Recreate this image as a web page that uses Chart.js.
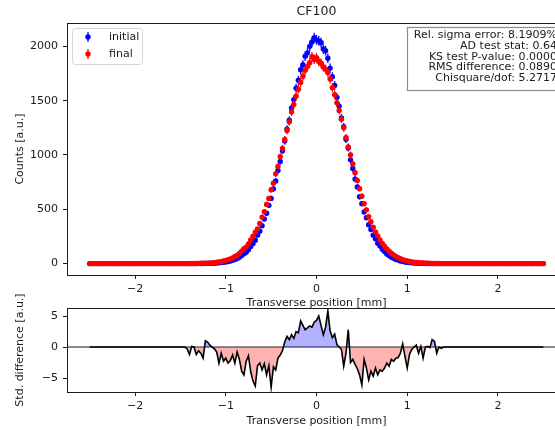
<!DOCTYPE html>
<html>
<head>
<meta charset="utf-8">
<script src="https://cdn.jsdelivr.net/npm/chart.js@4.4.0/dist/chart.umd.min.js"></script>
<style>
  html, body { margin: 0; padding: 0; background: #fff; overflow: hidden; }
  #wrap { position: relative; width: 555px; height: 430px; overflow: hidden; background: #fff; }
  canvas { position: absolute; left: 0; }
  #mainChart { top: 0; }
  #diffChart { top: 280px; }
</style>
</head>
<body>
<div id="wrap">
  <canvas id="mainChart" width="580" height="310"></canvas>
  <canvas id="diffChart" width="580" height="150"></canvas>
</div>
<script>
// bin centres [mm]
const positions = [
  -2.5,-2.475,-2.45,-2.425,-2.4,-2.375,-2.35,-2.325,-2.3,-2.275,
  -2.25,-2.225,-2.2,-2.175,-2.15,-2.125,-2.1,-2.075,-2.05,-2.025,
  -2,-1.975,-1.95,-1.925,-1.9,-1.875,-1.85,-1.825,-1.8,-1.775,
  -1.75,-1.725,-1.7,-1.675,-1.65,-1.625,-1.6,-1.575,-1.55,-1.525,
  -1.5,-1.475,-1.45,-1.425,-1.4,-1.375,-1.35,-1.325,-1.3,-1.275,
  -1.25,-1.225,-1.2,-1.175,-1.15,-1.125,-1.1,-1.075,-1.05,-1.025,
  -1,-0.975,-0.95,-0.925,-0.9,-0.875,-0.85,-0.825,-0.8,-0.775,
  -0.75,-0.725,-0.7,-0.675,-0.65,-0.625,-0.6,-0.575,-0.55,-0.525,
  -0.5,-0.475,-0.45,-0.425,-0.4,-0.375,-0.35,-0.325,-0.3,-0.275,
  -0.25,-0.225,-0.2,-0.175,-0.15,-0.125,-0.1,-0.075,-0.05,-0.025,
  0,0.025,0.05,0.075,0.1,0.125,0.15,0.175,0.2,0.225,
  0.25,0.275,0.3,0.325,0.35,0.375,0.4,0.425,0.45,0.475,
  0.5,0.525,0.55,0.575,0.6,0.625,0.65,0.675,0.7,0.725,
  0.75,0.775,0.8,0.825,0.85,0.875,0.9,0.925,0.95,0.975,
  1,1.025,1.05,1.075,1.1,1.125,1.15,1.175,1.2,1.225,
  1.25,1.275,1.3,1.325,1.35,1.375,1.4,1.425,1.45,1.475,
  1.5,1.525,1.55,1.575,1.6,1.625,1.65,1.675,1.7,1.725,
  1.75,1.775,1.8,1.825,1.85,1.875,1.9,1.925,1.95,1.975,
  2,2.025,2.05,2.075,2.1,2.125,2.15,2.175,2.2,2.225,
  2.25,2.275,2.3,2.325,2.35,2.375,2.4,2.425,2.45,2.475,
  2.5
];

const initialCounts = [
  0,0,0,0,0,0,0,0,0,0,
  0,0,0,0,0,0,0,0,0,0,
  0,0,0,0,0,0,0,0,0,0,
  0,0,0,0,0,0,0,0,0,0,
  0,0,0,0,0,0,0,0,1,1,
  1,1,2,2,3,4,5,8,9,12,
  15,19,24,30,38,46,59,74,90,104,
  127,158,186,216,262,298,348,410,464,536,
  600,688,760,858,940,1040,1128,1238,1320,1432,
  1510,1615,1688,1785,1830,1910,1940,2000,2040,2080,
  2060,2050,2035,1975,1960,1890,1800,1720,1640,1530,
  1450,1340,1260,1145,1065,955,875,778,705,615,
  552,476,422,358,314,262,228,188,161,131,
  112,89,75,59,49,38,32,24,20,15,
  12,9,7,5,4,3,2,2,1,1,
  1,0,0,0,0,0,0,0,0,0,
  0,0,0,0,0,0,0,0,0,0,
  0,0,0,0,0,0,0,0,0,0,
  0,0,0,0,0,0,0,0,0,0,
  0,0,0,0,0,0,0,0,0,0,
  0
];

const finalCounts = [
  0,0,0,0,0,0,0,0,0,0,
  0,0,0,0,0,0,0,0,0,0,
  0,0,0,0,0,0,0,0,0,0,
  0,0,0,0,0,0,0,0,0,0,
  0,0,0,0,0,1,1,1,2,2,
  3,3,4,6,7,9,12,16,18,24,
  28,36,43,52,66,74,93,115,136,152,
  180,218,252,290,320,370,428,478,545,600,
  680,740,826,894,985,1060,1142,1225,1305,1395,
  1465,1540,1605,1668,1725,1780,1815,1850,1905,1880,
  1895,1860,1845,1810,1790,1760,1700,1620,1555,1480,
  1410,1330,1250,1160,1075,1000,918,836,765,690,
  620,552,495,432,385,335,292,255,218,186,
  160,135,114,95,80,66,55,45,36,30,
  24,19,15,12,10,8,6,5,4,3,
  2,2,1,1,1,0,0,0,0,0,
  0,0,0,0,0,0,0,0,0,0,
  0,0,0,0,0,0,0,0,0,0,
  0,0,0,0,0,0,0,0,0,0,
  0,0,0,0,0,0,0,0,0,0,
  0
];

const stdDifference = [
  0,0,0,0,0,0,0,0,0,0,
  0,0,0,0,0,0,0,0,0,0,
  0,0,0,0,0,0,0,0,0,0,
  0,0,0,0,0,0,0,0,0,0,
  0,0,0,-0.3,-1.2,0.1,0,-1.2,-0.6,-1.0,
  -1.8,1.0,0.8,0.3,0,-0.3,-0.8,-2.6,-1.0,-2.3,
  -1.8,-2.6,-2.2,-1.3,-2.6,-0.8,-2.0,-3.9,-4.5,-2.3,
  -1.4,-4.0,-5.5,-6.3,-3.0,-2.6,-3.7,-2.7,-4.5,-3.0,
  -6.5,-3.2,-3.7,-1.8,-1.3,-0.6,0.8,1.7,1.2,2.0,
  1.4,2.5,2.3,4.2,3.5,2.8,3.1,3.4,3.2,4.0,
  4.3,5.0,3.5,2.0,3.2,5.8,2.6,1.5,2.1,0.4,
  0,-0.4,-3.1,-1.0,2.8,-2.5,-2.0,-2.8,-3.5,-4.5,
  -6.1,-2.0,-3.4,-5.3,-3.9,-4.7,-3.4,-4.5,-3.7,-3.9,
  -3.4,-2.6,-3.1,-2.0,-2.3,-1.8,-1.7,-1.0,0.5,-1.5,
  -3.4,-1.2,-0.4,0,0.3,-1.0,0.1,-1.8,0,0.1,
  -0.1,1.2,0.9,-1.0,0,-0.2,0,0,0,0,
  0,0,0,0,0,0,0,0,0,0,
  0,0,0,0,0,0,0,0,0,0,
  0,0,0,0,0,0,0,0,0,0,
  0,0,0,0,0,0,0,0,0,0,
  0
];

const xTicks = [-2, -1, 0, 1, 2];
const countTicks = [0, 500, 1000, 1500, 2000];
const diffTicks = [-5, 0, 5];

const statLines = [
  'Rel. sigma error: 8.1909%',
  'AD test stat: 0.64',
  'KS test P-value: 0.0000',
  'RMS difference: 0.0890',
  'Chisquare/dof: 5.2717'
];

const FONT = 'DejaVu Sans';
const SIZE = 11;
const INK = '#1a1a1a';

function fmt(v) {
  return v < 0 ? '\u2212' + Math.abs(v) : String(v);
}

function toPoints(ys) {
  return positions.map((x, i) => ({ x: x, y: ys[i] }));
}

// box around the plot area (matplotlib spines)
const frame = {
  id: 'frame',
  afterDraw(chart) {
    const { ctx, chartArea: a } = chart;
    ctx.save();
    ctx.strokeStyle = INK;
    ctx.lineWidth = 1;
    ctx.strokeRect(a.left + 0.5, a.top + 0.5, a.right - a.left, a.bottom - a.top);
    ctx.restore();
  }
};

// sqrt(N) error bars under each scatter dataset
const errorBars = {
  id: 'errorBars',
  beforeDatasetDraw(chart, args) {
    const ds = chart.data.datasets[args.index];
    if (!ds.errorBars) return;
    const ctx = chart.ctx;
    const y = chart.scales.y;
    ctx.save();
    ctx.strokeStyle = ds.backgroundColor;
    ctx.lineWidth = 1.3;
    args.meta.data.forEach((pt, i) => {
      const v = ds.data[i].y;
      if (v <= 0) return;
      const e = Math.sqrt(v);
      ctx.beginPath();
      ctx.moveTo(pt.x, y.getPixelForValue(v - e));
      ctx.lineTo(pt.x, y.getPixelForValue(v + e));
      ctx.stroke();
    });
    ctx.restore();
  }
};

// title, legend and stats box of the top panel
const decorations = {
  id: 'decorations',
  afterDraw(chart) {
    const { ctx, chartArea: a } = chart;
    ctx.save();
    ctx.fillStyle = INK;
    ctx.font = '12.5px "' + FONT + '"';
    ctx.textAlign = 'center';
    ctx.textBaseline = 'middle';
    ctx.fillText('CF100', (a.left + a.right) / 2, 11.5);

    // legend
    ctx.beginPath();
    ctx.roundRect(72.5, 28.5, 70, 36, 3);
    ctx.fillStyle = 'rgba(255,255,255,0.8)';
    ctx.fill();
    ctx.strokeStyle = '#d6d6d6';
    ctx.lineWidth = 1;
    ctx.stroke();
    const entries = [['initial', 'blue', 37], ['final', 'red', 54]];
    ctx.font = SIZE + 'px "' + FONT + '"';
    ctx.textAlign = 'left';
    entries.forEach(([label, color, y]) => {
      ctx.strokeStyle = color;
      ctx.fillStyle = color;
      ctx.lineWidth = 1.3;
      ctx.beginPath();
      ctx.moveTo(88, y - 5);
      ctx.lineTo(88, y + 5);
      ctx.stroke();
      ctx.beginPath();
      ctx.arc(88, y, 2.7, 0, Math.PI * 2);
      ctx.fill();
      ctx.fillStyle = INK;
      ctx.fillText(label, 109, y);
    });

    // statistics box
    ctx.fillStyle = '#fff';
    ctx.fillRect(407.5, 27.5, 155, 63);
    ctx.strokeStyle = '#8c8c8c';
    ctx.lineWidth = 1.2;
    ctx.strokeRect(407.5, 27.5, 155, 63);
    ctx.fillStyle = INK;
    ctx.textAlign = 'right';
    statLines.forEach((line, i) => {
      ctx.fillText(line, 557, 35.5 + i * 10.6);
    });
    ctx.restore();
  }
};

// horizontal zero line of the lower panel
const zeroLine = {
  id: 'zeroLine',
  beforeDatasetsDraw(chart) {
    const { ctx, chartArea: a } = chart;
    const y0 = chart.scales.y.getPixelForValue(0);
    ctx.save();
    ctx.strokeStyle = INK;
    ctx.lineWidth = 1;
    ctx.beginPath();
    ctx.moveTo(a.left, y0);
    ctx.lineTo(a.right, y0);
    ctx.stroke();
    ctx.restore();
  }
};

function xScale(titlePadBottom, height) {
  return {
    type: 'linear',
    min: -2.75,
    max: 2.75,
    afterBuildTicks: s => { s.ticks = xTicks.map(v => ({ value: v })); },
    afterFit: s => { s.height = height; },
    ticks: { color: INK, font: { family: FONT, size: SIZE }, padding: 4, maxRotation: 0, callback: v => fmt(v) },
    grid: { drawOnChartArea: false, drawTicks: true, tickLength: 4, color: INK },
    border: { display: false },
    title: { display: true, text: 'Transverse position [mm]', color: INK, font: { family: FONT, size: SIZE }, padding: { top: 0, bottom: titlePadBottom } }
  };
}

function yScale(min, max, tickList, label) {
  return {
    type: 'linear',
    min: min,
    max: max,
    afterBuildTicks: s => { s.ticks = tickList.map(v => ({ value: v })); },
    afterFit: s => { s.width = 67; },
    ticks: { color: INK, font: { family: FONT, size: SIZE }, padding: 5, callback: v => fmt(v) },
    grid: { drawOnChartArea: false, drawTicks: true, tickLength: 4, color: INK },
    border: { display: false },
    title: { display: true, text: label, color: INK, font: { family: FONT, size: SIZE }, padding: { top: 13.5, bottom: 0 } }
  };
}

const common = {
  responsive: false,
  animation: false,
  events: [],
  plugins: { legend: { display: false }, tooltip: { enabled: false } }
};

new Chart(document.getElementById('mainChart'), {
  type: 'scatter',
  data: {
    datasets: [
      { label: 'initial', data: toPoints(initialCounts), backgroundColor: 'blue', pointRadius: 2.7, pointBorderWidth: 0, errorBars: true, order: 2 },
      { label: 'final', data: toPoints(finalCounts), backgroundColor: 'red', pointRadius: 2.7, pointBorderWidth: 0, errorBars: true, order: 1 }
    ]
  },
  options: Object.assign({}, common, {
    layout: { padding: { top: 23, right: 14, left: 0, bottom: 0 } },
    scales: {
      x: xScale(0, 35),
      y: yScale(-105, 2215, countTicks, 'Counts [a.u.]')
    }
  }),
  plugins: [errorBars, frame, decorations]
});

new Chart(document.getElementById('diffChart'), {
  type: 'line',
  data: {
    datasets: [{
      label: 'difference',
      data: toPoints(stdDifference),
      borderColor: '#000',
      borderWidth: 1.6,
      pointRadius: 0,
      tension: 0,
      fill: { target: 'origin', above: 'rgba(0,0,255,0.3)', below: 'rgba(255,0,0,0.3)' }
    }]
  },
  options: Object.assign({}, common, {
    layout: { padding: { top: 28, right: 14, left: 0, bottom: 0 } },
    scales: {
      x: xScale(2.5, 38),
      y: yScale(-7.26, 6.3, diffTicks, 'Std. difference [a.u.]')
    }
  }),
  plugins: [zeroLine, frame]
});
</script>
</body>
</html>
